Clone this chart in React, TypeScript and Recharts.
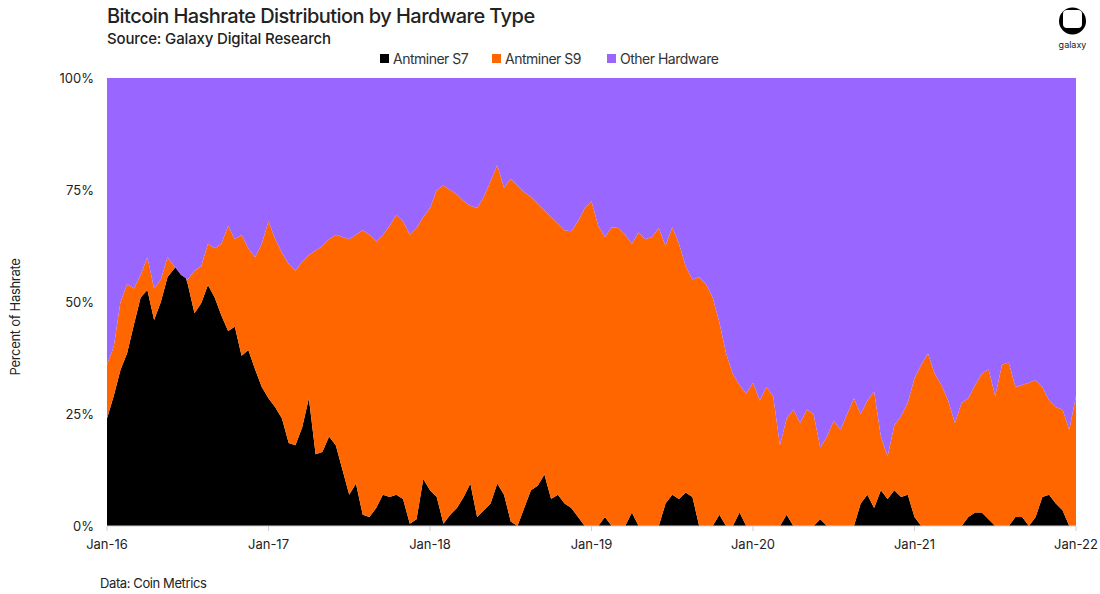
import { AreaChart, Area, XAxis, YAxis } from "recharts";

// semi-monthly readings, Jan-16 .. Jan-22 (145 points), percent of hashrate
const S7_SHARE = [
  24, 29, 34.8, 38.6, 45, 51, 52.7, 46, 50, 55.6, 57.5, 58.7, 54, 47.5, 49.7, 53.8,
  51, 47, 43.5, 44.5, 38, 39.3, 35, 31, 28.5, 26.5, 24, 18.5, 18, 22, 28.5, 16,
  16.5, 20, 18, 12.5, 7, 9.5, 2.5, 2, 4, 7, 6.5, 7, 6, 0.5, 1.5, 10.5,
  8, 6.5, 0.5, 2.5, 4, 6.5, 9.5, 2, 3.5, 5, 9.5, 7, 1, 0, 4, 8,
  9, 11.5, 6, 7, 5, 4, 2, 0, 0, 0, 2, 0, 0, 0, 3, 0,
  0, 0, 0, 5, 7, 6, 7.5, 6.5, 0, 0, 0, 2.5, 0, 0, 3, 0,
  0, 0, 0, 0, 0, 2.5, 0, 0, 0, 0, 1.5, 0, 0, 0, 0, 0,
  5, 7, 4, 8, 6, 8, 6.5, 7, 2, 0, 0, 0, 0, 0, 0, 0,
  2, 3, 3, 1.5, 0, 0, 0, 2, 2, 0, 2, 6.5, 7, 5, 3.5, 0, 0,
];

// S7 + S9 combined share, same dates
const MODERN_TOTAL = [
  36, 40, 50, 54, 53, 56, 60, 53, 55, 60, 58, 56, 55, 57, 58, 63,
  62, 63, 67, 64, 65, 62, 60, 63, 68, 64, 61, 58.5, 57, 59, 60.5, 61.5,
  62.5, 64, 65, 64.5, 64, 65, 66, 65, 63.5, 65, 67, 69.5, 68, 65, 66.5, 69,
  71, 75, 76, 75, 74, 72.5, 71.5, 71, 73.5, 77, 80.5, 75.5, 77.5, 76, 74.5, 73.5,
  72, 70.5, 69, 67.5, 66, 65.8, 68, 71, 72.5, 67, 64.5, 66.7, 66.5, 65, 63, 65.5,
  64, 64.5, 66.5, 62.5, 66.7, 63, 58, 55, 55.5, 54, 51, 45.5, 38.5, 34, 31.5, 29.5,
  32, 28, 31, 29, 18, 24, 26, 23, 26, 25, 17.5, 20, 23.5, 21.5, 25, 28.5,
  25, 28, 30, 20, 15.5, 22.5, 24.5, 27.5, 33, 36, 38.5, 34, 31.5, 28, 23, 27.5,
  28.5, 31.5, 34, 35, 29, 36, 36.5, 31, 31.5, 32, 32.6, 31, 28, 26.5, 26, 21.5, 29,
];

const S9_SHARE = MODERN_TOTAL.map((t, i) => t - S7_SHARE[i]);
const OTHER_SHARE = MODERN_TOTAL.map((t) => 100 - t);

const DATES = S7_SHARE.map((_, i) => {
  const y = 2016 + Math.floor(i / 24);
  const m = Math.floor((i % 24) / 2) + 1;
  const d = i % 2 === 0 ? "01" : "15";
  return `${y}-${String(m).padStart(2, "0")}-${d}`;
});

const X_TICKS = ["2016-01-01", "2017-01-01", "2018-01-01", "2019-01-01", "2020-01-01", "2021-01-01", "2022-01-01"];
const X_LABELS = ["Jan-16", "Jan-17", "Jan-18", "Jan-19", "Jan-20", "Jan-21", "Jan-22"];
const Y_TICKS = [0, 25, 50, 75, 100];

const SERIES = [
  { key: "s7", name: "Antminer S7", color: "#000000" },
  { key: "s9", name: "Antminer S9", color: "#FF6600" },
  { key: "other", name: "Other Hardware", color: "#9966FF" },
];

const data = DATES.map((date, i) => ({
  date,
  s7: S7_SHARE[i],
  s9: S9_SHARE[i],
  other: OTHER_SHARE[i],
}));

const FONT = "Inter, 'Noto Sans', sans-serif";
const legendLeft = [380, 492, 607];

export default function App() {
  return (
    <div style={{ position: "absolute", left: 0, top: 0, width: 1100, height: 594, background: "#fff", fontFamily: FONT, color: "#222" }}>
      <div style={{ position: "absolute", left: 107, top: 4, fontSize: 20, fontWeight: 500, letterSpacing: -0.55, lineHeight: "24px" }}>
        Bitcoin Hashrate Distribution by Hardware Type
      </div>
      <div style={{ position: "absolute", left: 107, top: 30, fontSize: 15, fontWeight: 500, letterSpacing: -0.15, lineHeight: "18px" }}>
        Source: Galaxy Digital Research
      </div>

      {SERIES.map((s, i) => (
        <div key={s.key} style={{ position: "absolute", left: legendLeft[i], top: 50, display: "flex", alignItems: "center", fontSize: 14, letterSpacing: -0.5, color: "#333", lineHeight: "17px" }}>
          <span style={{ display: "inline-block", width: 9, height: 9, background: s.color, marginRight: 4 }} />
          {s.name}
        </div>
      ))}

      <div style={{ position: "absolute", left: 15, top: 317, fontSize: 13, color: "#222", whiteSpace: "nowrap", transform: "translate(-50%, -50%) rotate(-90deg)", letterSpacing: -0.3 }}>
        Percent of Hashrate
      </div>

      <div style={{ position: "absolute", left: 100, top: 575, fontSize: 13, color: "#222", letterSpacing: -0.4 }}>
        Data: Coin Metrics
      </div>

      <svg style={{ position: "absolute", left: 1055, top: 4 }} width={36} height={48}>
        <circle cx={17.5} cy={17} r={13.5} fill="#000" />
        <rect x={8} y={6} width={19} height={18} rx={4} fill="#fff" />
        <text x={17.5} y={44} textAnchor="middle" fontSize={9} fontFamily={FONT} fill="#222">galaxy</text>
      </svg>

      <AreaChart
        width={1100}
        height={594}
        data={data}
        margin={{ top: 78, right: 24, bottom: 38, left: 0 }}
        style={{ position: "absolute", left: 0, top: 0 }}
      >
        <XAxis
          dataKey="date"
          ticks={X_TICKS}
          interval={0}
          tickFormatter={(v: string) => X_LABELS[X_TICKS.indexOf(v)] ?? ""}
          tick={{ fontSize: 13, fill: "#222", fontFamily: FONT }}
          stroke="#d0d0d0"
          tickSize={5}
          tickMargin={9}
          height={30}
        />
        <YAxis
          domain={[0, 100]}
          ticks={Y_TICKS}
          allowDataOverflow
          tickFormatter={(v: number) => `${v}%`}
          tick={{ fontSize: 13, fill: "#222", fontFamily: FONT }}
          axisLine={false}
          tickLine={false}
          tickSize={0}
          tickMargin={13}
          width={107}
        />
        {SERIES.map((s) => (
          <Area
            key={s.key}
            type="linear"
            dataKey={s.key}
            name={s.name}
            stackId="hw"
            stroke="none"
            fill={s.color}
            fillOpacity={1}
            isAnimationActive={false}
          />
        ))}
      </AreaChart>
    </div>
  );
}
